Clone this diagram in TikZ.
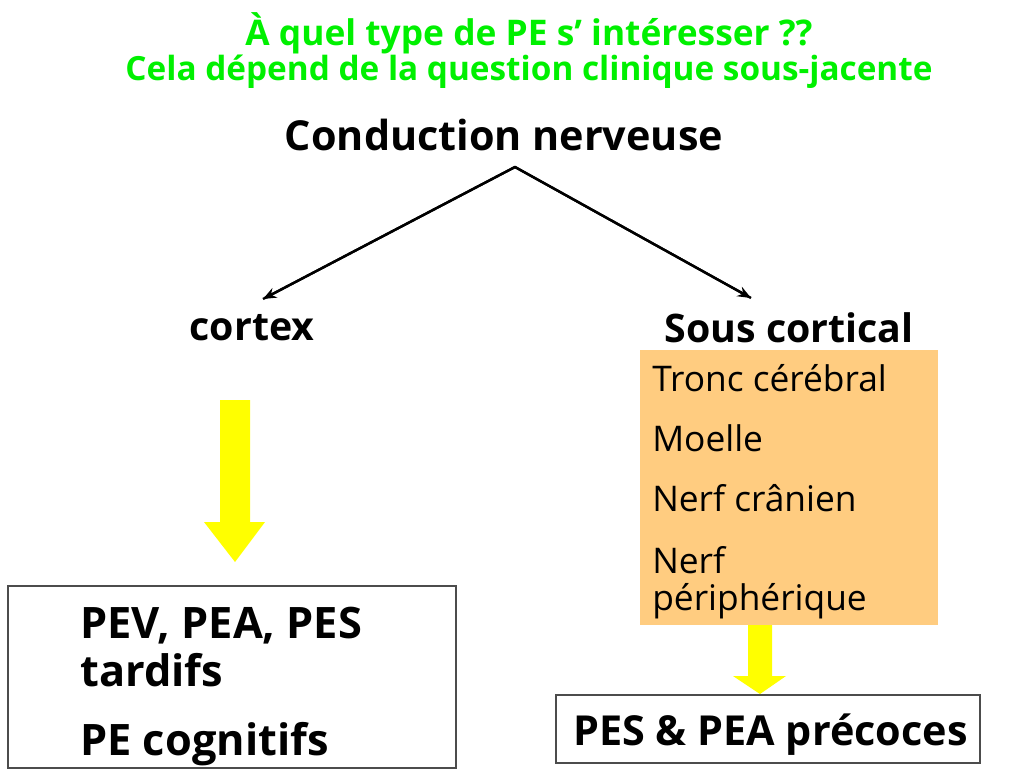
\documentclass[tikz,border=0pt]{standalone}
\usepackage{fontspec}
\setmainfont{Open Sans}
\usetikzlibrary{arrows.meta}
\definecolor{titlegreen}{RGB}{0,240,0}
\definecolor{boxorange}{RGB}{255,204,128}
\definecolor{arrowyellow}{RGB}{255,255,0}
\tikzset{
  title/.style={text=titlegreen,font=\fontsize{25}{28}\selectfont\bfseries,inner sep=0pt},
  big/.style={font=\fontsize{31}{34}\selectfont\bfseries,inner sep=0pt},
  mid/.style={font=\fontsize{29.5}{32}\selectfont\bfseries,inner sep=0pt},
  item/.style={font=\fontsize{26.5}{30}\selectfont,inner sep=0pt,anchor=west},
  boxtext/.style={font=\fontsize{32.5}{36}\selectfont\bfseries,inner sep=0pt,anchor=west},
  link/.style={-{Stealth[length=10pt,width=8pt]},line width=1.8pt},
  fatarrow/.style={fill=arrowyellow,draw=none}
}
\begin{document}
\begin{tikzpicture}[x=0.75pt,y=-0.75pt]
\useasboundingbox[fill=white] (0,0) rectangle (1024,768);
% titles
\node[title,font=\fontsize{26.5}{28}\selectfont\bfseries] (t1) at (529,33) {À quel type de PE s’ intéresser ??};
\node[title] (t2) at (529,72) {Cela dépend de la question clinique sous-jacente};
% main nodes
\node[big] (cn) at (504,135) {Conduction nerveuse};
\coordinate (apex) at (515,167);
\coordinate (lend) at (263,299);
\coordinate (rend) at (751,298);
\node[mid] (cx) at (252,328) {cortex};
\node[mid] (sc) at (789,328) {Sous cortical};
\draw[line width=1.8pt] (lend) -- (apex) -- (rend);
\draw[link] (apex) -- (lend);
\draw[link] (apex) -- (rend);
% orange box
\node[fill=boxorange,minimum width=298*0.75pt,minimum height=275*0.75pt,inner sep=0pt] (ob) at (789,487.5) {};
\node[item] (i1) at (652,378) {Tronc cérébral};
\node[item] (i2) at (652,438) {Moelle};
\node[item] (i3) at (652,498) {Nerf crânien};
\node[item] (i4) at (652,560) {Nerf};
\node[item] (i5) at (652,601) {périphérique};
% left yellow arrow
\fill[fatarrow] (220,400) -- (250,400) -- (250,522) -- (265,522) -- (235,562) -- (204,522) -- (220,522) -- cycle;
% right yellow arrow
\fill[fatarrow] (748,625) -- (772,625) -- (772,676) -- (786,676) -- (760,694) -- (733,676) -- (748,676) -- cycle;
% left box
\node[draw=black!70,line width=0.8pt,minimum width=448*0.75pt,minimum height=182*0.75pt,inner sep=0pt] (lb) at (232,677) {};
\node[boxtext] (l1) at (80,626) {PEV, PEA, PES};
\node[boxtext] (l2) at (80,670) {tardifs};
\node[boxtext] (l3) at (80,744) {PE cognitifs};
% right box
\node[draw=black!70,line width=0.8pt,minimum width=424*0.75pt,minimum height=68*0.75pt,inner sep=0pt] (rb) at (768,729) {};
\node[boxtext,font=\fontsize{31}{36}\selectfont\bfseries] (r1) at (573,735) {PES \& PEA précoces};
\end{tikzpicture}
\end{document}
